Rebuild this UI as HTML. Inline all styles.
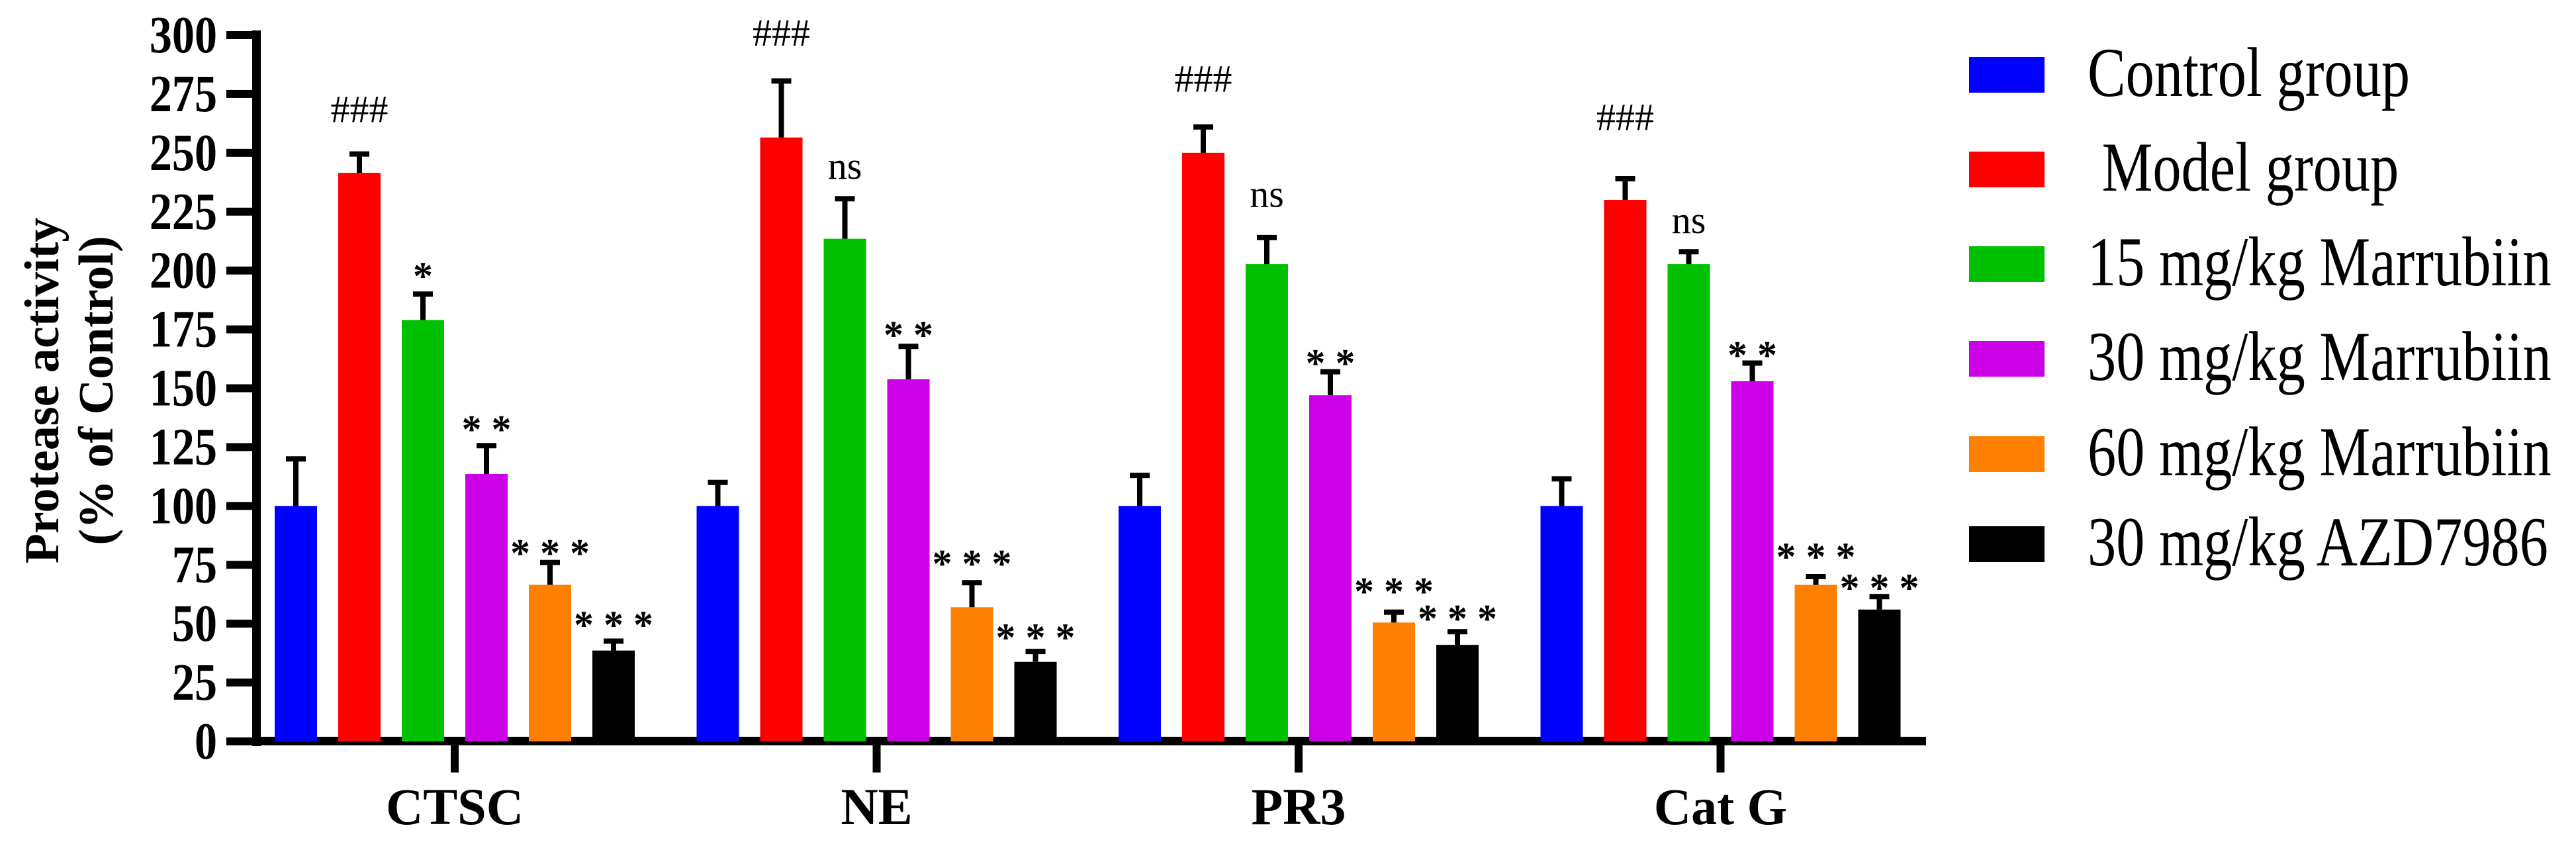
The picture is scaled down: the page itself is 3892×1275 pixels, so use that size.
<!DOCTYPE html>
<html><head><meta charset="utf-8"><style>
html,body{margin:0;padding:0;background:#fff;}
svg{display:block;font-family:"Liberation Serif","Times New Roman",serif;}
svg text{font-family:"Liberation Serif","Times New Roman",serif;}
</style></head><body>
<svg id="chart" width="3892" height="1275" viewBox="0 0 3892 1275" xmlns="http://www.w3.org/2000/svg" font-family="Liberation Serif, serif">
<g id="axes"></g>
<g id="bars"></g>
<g id="legend"></g>
</svg>
<script>
const categories = ["CTSC", "NE", "PR3", "Cat G"];
const seriesNames = ["Control group", " Model group", "15 mg/kg Marrubiin", "30 mg/kg Marrubiin", "60 mg/kg Marrubiin", "30 mg/kg AZD7986"];
const seriesColors = ["#0000ff", "#ff0000", "#00c000", "#cc00e6", "#ff8000", "#000000"];
const controlVals = [100, 100, 100, 100];
const modelVals = [241.5, 256.5, 250, 230];
const m15Vals = [179, 213.5, 202.7, 202.7];
const m30Vals = [113.6, 153.8, 147, 153];
const m60Vals = [66.5, 57, 50.5, 66.5];
const azdVals = [38.6, 33.8, 41, 56];
const controlErr = [20, 10, 13, 11.5];
const modelErr = [8, 24, 11, 9];
const m15Err = [11, 17, 11.3, 5.3];
const m30Err = [12, 14, 10, 7.7];
const m60Err = [9.5, 10.4, 4.4, 3.5];
const azdErr = [4, 4.4, 5.6, 5.5];
const annotText = [
  ["", "###", "*", "**", "***", "***"],
  ["", "###", "ns", "**", "***", "***"],
  ["", "###", "ns", "**", "***", "***"],
  ["", "###", "ns", "**", "***", "***"]
];
const annotLevel = [
  [0, 263, 201, 136, 83.4, 52.8],
  [0, 295.5, 239, 176, 78.9, 47.5],
  [0, 276, 227, 164, 67, 55.5],
  [0, 259.7, 216, 167.5, 81.8, 68.6]
];
const yTicks = [0, 25, 50, 75, 100, 125, 150, 175, 200, 225, 250, 275, 300];

const values = [controlVals, modelVals, m15Vals, m30Vals, m60Vals, azdVals];
const errs = [controlErr, modelErr, m15Err, m30Err, m60Err, azdErr];

const NS = "http://www.w3.org/2000/svg";
const FF = "Liberation Serif, Times New Roman, serif";
const Y0 = 1120, Y300 = 53;
function yScale(v){ return Y0 - v * (Y0 - Y300) / 300; }
const G0 = 687, GSTEP = 637.5, PITCH = 96, BW = 64;
function groupCenter(i){ return G0 + i * GSTEP; }
function barLeft(g, s){ return groupCenter(g) - (5 * PITCH + BW) / 2 + s * PITCH; }
function mk(tag, attrs, parent){
  const el = document.createElementNS(NS, tag);
  for (const k in attrs) el.setAttribute(k, attrs[k]);
  if (tag === "text") el.setAttribute("font-family", FF);
  parent.appendChild(el);
  return el;
}
const axes = document.getElementById("axes");
const bars = document.getElementById("bars");
const legend = document.getElementById("legend");

for (let g = 0; g < categories.length; g++) {
  for (let s = 0; s < values.length; s++) {
    const v = values[s][g], e = errs[s][g];
    const x = barLeft(g, s), cx = x + BW / 2;
    const r = mk("rect", {x: x, y: yScale(v), width: BW, height: Y0 - yScale(v), fill: seriesColors[s]}, bars);
    
    
    const eb = mk("path", {d: "M" + cx + " " + yScale(v) + "V" + yScale(v + e) + "M" + (cx - 15) + " " + yScale(v + e) + "H" + (cx + 15), stroke: "#000", "stroke-width": 8, fill: "none"}, bars);
    
    
    const t = annotText[g][s];
    if (t) {
      const isStar = t.indexOf("*") === 0;
      const yy = yScale(annotLevel[g][s]) + (isStar ? 32 : 0);
      const attrs = {x: cx, y: yy, "text-anchor": "middle", "font-size": isStar ? 60 : 58, fill: "#000"};
      if (isStar) attrs["font-weight"] = "bold";
      const tx = mk("text", attrs, bars);
      tx.textContent = isStar ? t.split("").join(" ") : t;
      
      
    }
  }
}

const yAxis = mk("rect", {x: 381, y: 46, width: 13, height: Y0 - 46 + 7, fill: "#000"}, axes);


for (const tv of yTicks) {
  const ty = yScale(tv);
  const tk = mk("rect", {x: 342, y: ty - 6, width: 45, height: 12, fill: "#000"}, axes);
  
  
  const tl = mk("text", {x: 0, y: 0, transform: "translate(328," + (ty + 26) + ") scale(0.92,1.08)", "text-anchor": "end", "font-size": 74, "font-weight": "bold"}, axes);
  tl.textContent = tv;
  
  
}
const xAxis = mk("rect", {x: 381, y: Y0 - 7, width: 2910 - 381, height: 13, fill: "#000"}, axes);


for (let g = 0; g < categories.length; g++) {
  const c = groupCenter(g);
  const tk = mk("rect", {x: c - 6, y: Y0, width: 12, height: 47, fill: "#000"}, axes);
  
  
  const tl = mk("text", {x: c, y: 1245, "text-anchor": "middle", "font-size": 78, "font-weight": "bold"}, axes);
  tl.textContent = categories[g];
  
  
}
const yt1 = mk("text", {x: 0, y: 0, transform: "translate(88,590) rotate(-90)", "text-anchor": "middle", "font-size": 74, "font-weight": "bold"}, axes);
yt1.textContent = "Protease activity";


const yt2 = mk("text", {x: 0, y: 0, transform: "translate(170,590) rotate(-90)", "text-anchor": "middle", "font-size": 74, "font-weight": "bold"}, axes);
yt2.textContent = "(% of Control)";



const legendRows = [113, 256, 399, 542, 686, 822];
for (let s = 0; s < seriesNames.length; s++) {
  const cy = legendRows[s];
  const sw = mk("rect", {x: 2975, y: cy - 27, width: 114, height: 54, fill: seriesColors[s]}, legend);
  
  
  const lt = mk("text", {x: 0, y: 0, transform: "translate(3154," + (cy + 32) + ") scale(0.9,1.1)", "font-size": 96}, legend);
  lt.setAttribute("style", "white-space:pre");
  lt.textContent = seriesNames[s];
  
  
}
</script>
</body></html>
